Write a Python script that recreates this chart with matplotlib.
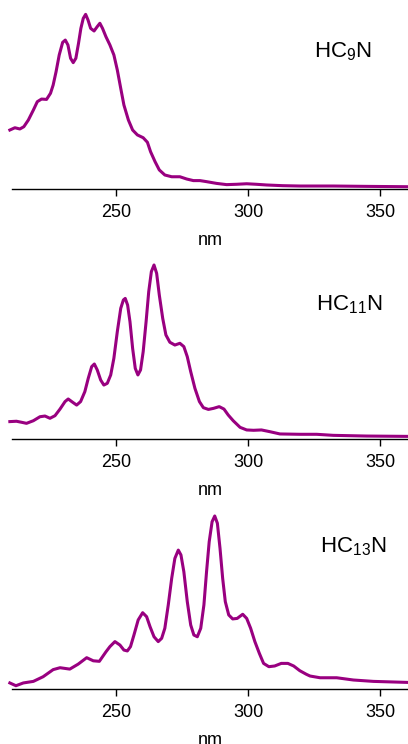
import matplotlib.pyplot as plt
import numpy as np

plt.rcParams['font.family'] = ['Liberation Sans', 'DejaVu Sans']
plt.rcParams['mathtext.fontset'] = 'custom'
plt.rcParams['mathtext.rm'] = 'Liberation Sans'
plt.rcParams['mathtext.it'] = 'Liberation Sans:italic'

# HC9N absorption (normalised to peak)
nm_9 = [209.7, 211.6, 213.5, 215.0, 216.7, 218.6, 220.1, 221.7, 223.6, 225.1, 226.1,
        227.2, 228.4, 229.7, 230.7, 231.7, 232.7, 233.7, 234.7, 235.7, 236.6, 237.5,
        238.4, 239.3, 240.3, 241.6, 242.8, 243.8, 244.8, 246.1, 247.6, 249.1, 250.4,
        251.7, 252.9, 254.6, 256.2, 258.0, 260.2, 261.8, 263.0, 264.7, 266.3, 268.4,
        271.0, 274.1, 276.7, 279.2, 281.7, 284.2, 288.0, 291.8, 295.6, 299.4, 303.0,
        306.9, 313.0, 319.6, 332.2, 344.8, 360.5]
abs_9 = [0.337, 0.350, 0.343, 0.356, 0.394, 0.451, 0.499, 0.514, 0.512, 0.547, 0.594,
         0.670, 0.766, 0.838, 0.851, 0.823, 0.747, 0.722, 0.747, 0.832, 0.918, 0.975,
         0.998, 0.966, 0.918, 0.903, 0.928, 0.947, 0.918, 0.870, 0.823, 0.766, 0.680,
         0.575, 0.480, 0.394, 0.337, 0.309, 0.293, 0.267, 0.213, 0.156, 0.109, 0.080,
         0.070, 0.070, 0.057, 0.048, 0.048, 0.042, 0.032, 0.025, 0.027, 0.030, 0.027,
         0.023, 0.019, 0.017, 0.017, 0.015, 0.013]

# HC11N
nm_11 = [209.7, 212.2, 214.5, 216.0, 218.6, 221.1, 223.0, 224.9, 226.8, 228.7, 230.6,
         231.8, 233.5, 235.0, 236.5, 238.1, 239.4, 240.7, 241.7, 242.8, 244.1, 245.3,
         246.6, 247.9, 249.1, 250.4, 251.7, 252.7, 253.4, 254.3, 255.2, 256.2, 257.2,
         258.2, 259.2, 260.2, 261.3, 262.3, 263.3, 264.3, 265.3, 266.3, 267.6, 268.8,
         270.3, 272.2, 274.1, 275.6, 276.9, 278.2, 279.8, 281.5, 283.0, 284.9, 286.8,
         289.0, 290.8, 292.4, 294.3, 296.9, 299.4, 302.0, 305.0, 308.2, 312.0, 319.6,
         325.9, 332.2, 344.8, 360.5]
abs_11 = [0.100, 0.102, 0.095, 0.090, 0.105, 0.128, 0.132, 0.119, 0.134, 0.172, 0.215,
          0.230, 0.211, 0.195, 0.215, 0.272, 0.349, 0.416, 0.431, 0.397, 0.339, 0.310,
          0.320, 0.368, 0.464, 0.617, 0.751, 0.799, 0.808, 0.770, 0.674, 0.521, 0.406,
          0.368, 0.397, 0.502, 0.674, 0.847, 0.962, 1.000, 0.952, 0.828, 0.693, 0.598,
          0.556, 0.540, 0.550, 0.531, 0.473, 0.387, 0.291, 0.215, 0.180, 0.170, 0.176,
          0.186, 0.172, 0.138, 0.105, 0.067, 0.052, 0.050, 0.052, 0.042, 0.029, 0.027,
          0.027, 0.021, 0.017, 0.015]

# HC13N
nm_13 = [209.7, 212.0, 214.8, 218.6, 222.3, 226.1, 228.7, 232.4, 235.6, 238.8, 241.3,
         243.6, 246.1, 247.6, 249.5, 251.4, 252.9, 254.2, 255.4, 256.7, 258.3, 260.0,
         261.5, 262.8, 264.3, 265.9, 267.2, 268.4, 269.7, 271.0, 272.2, 273.5, 274.5,
         275.6, 276.9, 278.2, 279.4, 280.7, 282.0, 283.2, 284.2, 285.2, 286.3, 287.3,
         288.3, 289.3, 290.3, 291.3, 292.6, 294.1, 295.8, 297.9, 299.4, 300.9, 302.5,
         304.2, 305.8, 307.8, 310.0, 312.5, 315.0, 317.2, 319.5, 322.0, 323.4, 327.2,
         333.5, 339.8, 347.4, 360.5]
abs_13 = [0.035, 0.019, 0.035, 0.044, 0.071, 0.112, 0.123, 0.115, 0.144, 0.181, 0.163,
          0.160, 0.215, 0.245, 0.274, 0.254, 0.225, 0.220, 0.245, 0.312, 0.399, 0.441,
          0.418, 0.360, 0.302, 0.274, 0.293, 0.351, 0.486, 0.640, 0.755, 0.803, 0.775,
          0.678, 0.505, 0.370, 0.312, 0.302, 0.351, 0.486, 0.678, 0.851, 0.967, 1.000,
          0.958, 0.813, 0.640, 0.505, 0.428, 0.405, 0.408, 0.432, 0.408, 0.351, 0.274,
          0.206, 0.148, 0.129, 0.133, 0.148, 0.148, 0.133, 0.106, 0.085, 0.075, 0.065,
          0.065, 0.052, 0.044, 0.038]

labels = [r'HC$_{9}$N', r'HC$_{11}$N', r'HC$_{13}$N']
series = [(nm_9, abs_9), (nm_11, abs_11), (nm_13, abs_13)]
ticks = [250, 300, 350]

W, H = 408, 744
fig = plt.figure(figsize=(W / 100, H / 100), dpi=100)

# pixel positions: baseline y, peak y, label left x, label centre y
panels = [(189, 14, 314, 52), (439, 265, 316, 305), (689, 516, 320, 547)]
left_px = 11.7

for (x, y), lab, (base, top, lx, ly) in zip(series, labels, panels):
    ax = fig.add_axes([left_px / W, (H - base) / H, (W - left_px) / W, (base - top) / H])
    ax.plot(x, y, color='#990080', lw=2.2, solid_joinstyle='round', clip_on=False)
    ax.set_xlim(210.4, 360.5)
    ax.set_ylim(0, 1)
    for s in ['left', 'right', 'top']:
        ax.spines[s].set_visible(False)
    ax.spines['bottom'].set_linewidth(1.0)
    ax.set_yticks([])
    ax.set_xticks(ticks)
    ax.tick_params(axis='x', length=5, width=1, pad=6, labelsize=13)
    ax.set_xlabel('nm', fontsize=13, labelpad=8)
    fig.text(lx / W, 1 - ly / H, lab, fontsize=16, ha='left', va='center')

fig.savefig('out.png', dpi=100)
